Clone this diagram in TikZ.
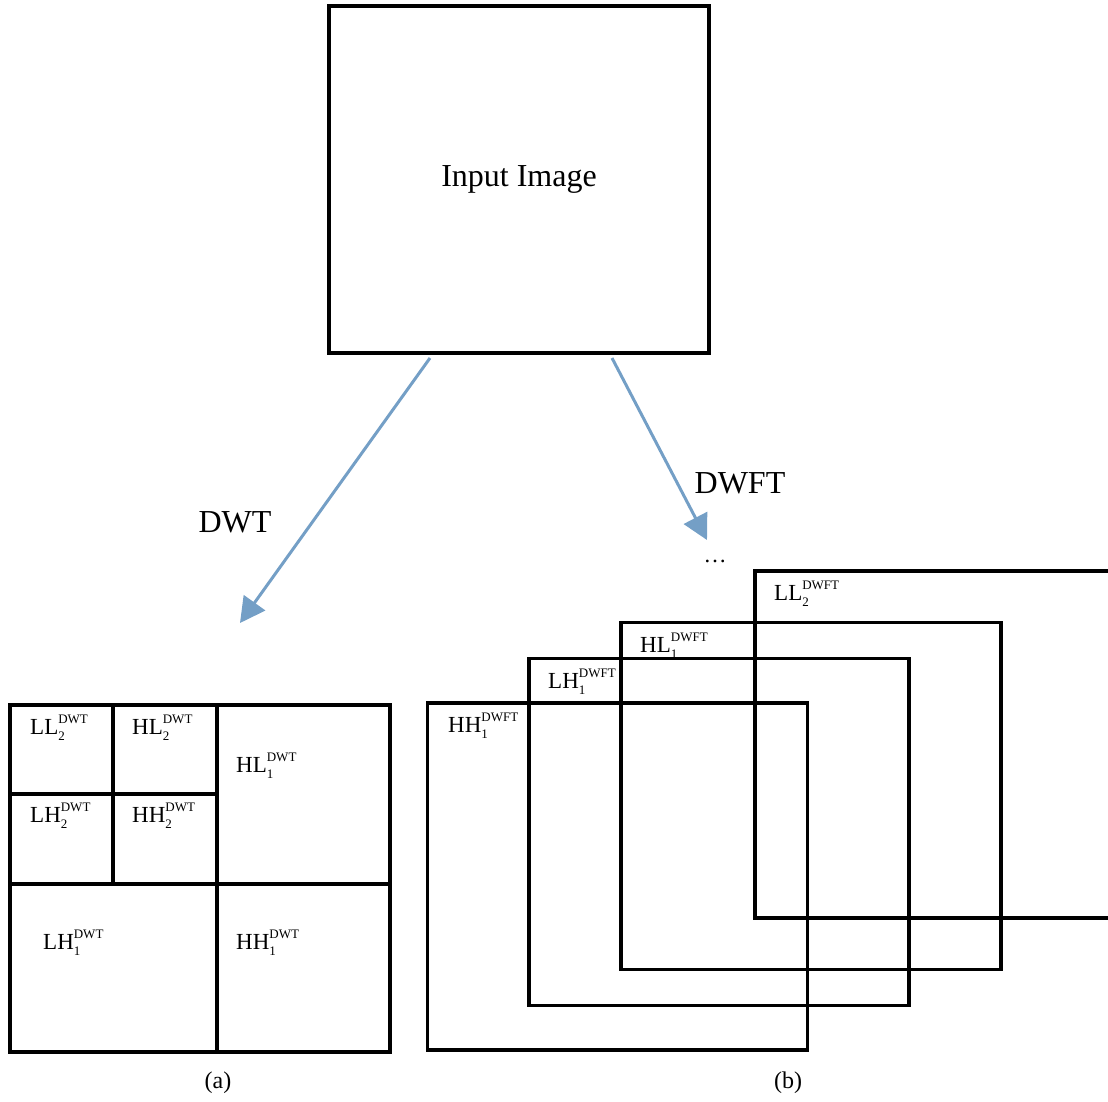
\documentclass[tikz,border=0pt]{standalone}
\usepackage{amsmath}
\usepackage{fontspec}
\setmainfont{Liberation Serif}
\usepackage{tikz}
\usepackage{xcolor}
\usetikzlibrary{positioning, arrows.meta}

\definecolor{flowblue}{RGB}{116,159,198}
\DeclareMathSizes{23}{23}{13}{10}
\newcommand{\bandtxt}[3]{$\text{#1}_{\text{#2}}^{\text{#3}}$}

\begin{document}
\begin{tikzpicture}[
  x=1pt, y=-1pt,
  frame/.style={draw, line width=3.5pt, minimum width=#1, minimum height=347pt, inner sep=0pt},
  frame/.default=380pt,
  band/.style={anchor=base west, inner sep=0pt, font=\fontsize{23}{27}\selectfont},
  big/.style={font=\fontsize{32}{38}\selectfont},
  flow/.style={draw=flowblue, line width=3pt, -{Triangle[length=25pt, width=26pt]}},
  grid/.style={line width=3.5pt}
]
\clip (0,0) rectangle (1108,1101);

% Input image
\node[frame, big] (img) at (519,179.5) {Input Image};

% Transform arrows
\coordinate (dwtfrom) at (430,358);
\coordinate (dwtto) at (240,623);
\coordinate (dwftfrom) at (612,358);
\coordinate (dwftto) at (707,540);
\draw[flow] (dwtfrom) -- (dwtto);
\draw[flow] (dwftfrom) -- (dwftto);
\node[big, anchor=base] (dwtlbl) at (235,532) {DWT};
\node[big, anchor=base] (dwftlbl) at (740,493) {DWFT};

% (a) DWT decomposition
\node[frame] (dwt) at (200,878.5) {};
\draw[grid] (217,705) -- (217,1052);
\draw[grid] (10,884) -- (390,884);
\draw[grid] (113,705) -- (113,884);
\draw[grid] (10,794) -- (217,794);
\node[band] (ll2) at (30,734) {\bandtxt{LL}{2}{DWT}};
\node[band] (hl2) at (132,734) {\bandtxt{HL}{2}{DWT}};
\node[band] (hl1) at (236,772) {\bandtxt{HL}{1}{DWT}};
\node[band] (lh2) at (30,822) {\bandtxt{LH}{2}{DWT}};
\node[band] (hh2) at (132,822) {\bandtxt{HH}{2}{DWT}};
\node[band] (lh1) at (43,949) {\bandtxt{LH}{1}{DWT}};
\node[band] (hh1) at (236,949) {\bandtxt{HH}{1}{DWT}};

% (b) DWFT subbands
\node[frame] (fll2) at (945,744.5) {};
\node[frame] (fhl1) at (811,796) {};
\node[frame] (flh1) at (719,832) {};
\node[frame] (fhh1) at (617.5,876.5) {};
\node[band] (fll2lbl) at (774,600) {\bandtxt{LL}{2}{DWFT}};
\node[band] (fhl1lbl) at (640,652) {\bandtxt{HL}{1}{DWFT}};
\node[band] (flh1lbl) at (548,688) {\bandtxt{LH}{1}{DWFT}};
\node[band] (fhh1lbl) at (448,732) {\bandtxt{HH}{1}{DWFT}};
\node[font=\fontsize{23}{27}\selectfont] (dots) at (715,561) {\dots};

% Captions
\node[font=\fontsize{24}{28}\selectfont] (capa) at (218,1083) {(a)};
\node[font=\fontsize{24}{28}\selectfont] (capb) at (788,1083) {(b)};

\end{tikzpicture}
\end{document}
